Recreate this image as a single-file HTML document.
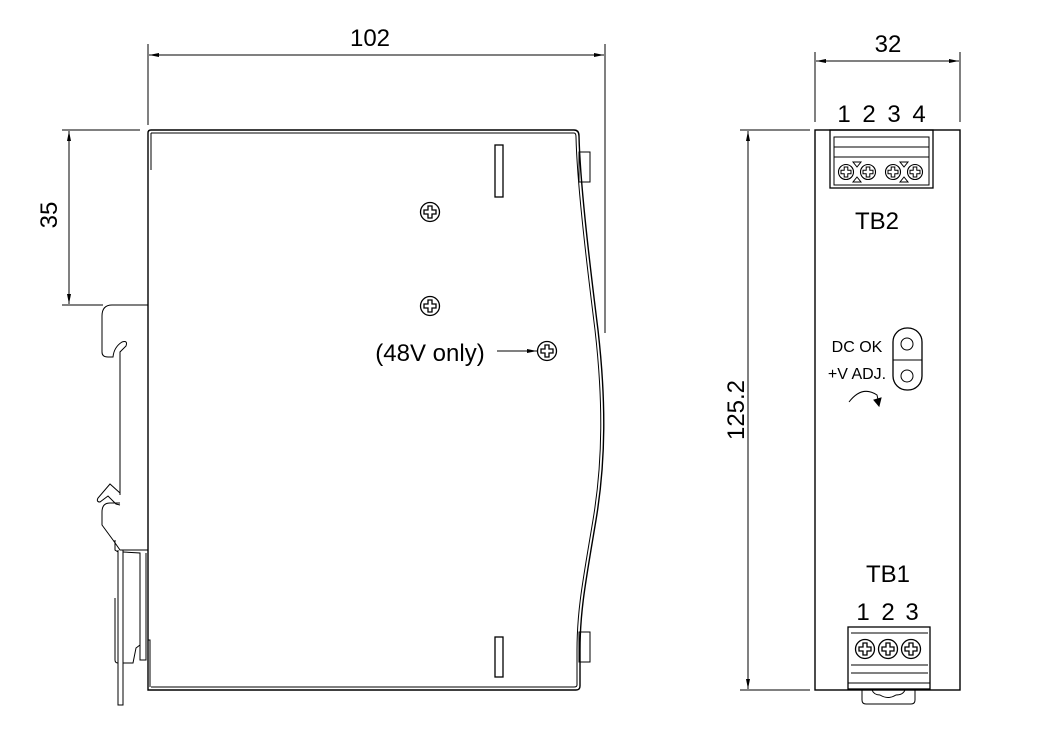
<!DOCTYPE html>
<html><head><meta charset="utf-8"><style>
html,body{margin:0;padding:0;background:#fff}
svg{display:block}
text{font-family:"Liberation Sans",sans-serif;fill:#000}
</style></head><body>
<svg width="1050" height="750" viewBox="0 0 1050 750" xmlns="http://www.w3.org/2000/svg">
<defs>
<marker id="a" viewBox="0 0 10 4" refX="10" refY="2" markerWidth="10" markerHeight="4" orient="auto-start-reverse" markerUnits="userSpaceOnUse"><path d="M0,0 L10,2 L0,4z" fill="#000"/></marker>
<g id="scr"><circle r="9.5" fill="#fff" stroke="#000" stroke-width="1.3"/><path d="M-2,-6 h4 v4 h4 v4 h-4 v4 h-4 v-4 h-4 v-4 h4z" fill="none" stroke="#000" stroke-width="1.3"/></g>
<g id="s2"><circle r="7.5" fill="#fff" stroke="#000" stroke-width="1.1"/><path d="M-1.8,-5 h3.6 v3.2 h3.2 v3.6 h-3.2 v3.2 h-3.6 v-3.2 h-3.2 v-3.6 h3.2z" fill="none" stroke="#000" stroke-width="1"/></g>
</defs>
<g stroke="#000" fill="none" stroke-width="1">
<line x1="148" y1="44" x2="148" y2="125"/>
<line x1="605" y1="44" x2="605" y2="333"/>
<line x1="149" y1="55" x2="604" y2="55" marker-start="url(#a)" marker-end="url(#a)"/>
<line x1="62" y1="130" x2="140" y2="130"/>
<line x1="62" y1="305" x2="103" y2="305"/>
<line x1="69" y1="131" x2="69" y2="304" marker-start="url(#a)" marker-end="url(#a)"/>
<path d="M148,690 L148,133 Q148,130 151,130 L574,130 Q579,130 579,136 C580,180 588,250 598,330 C606,400 606,460 596,520 C586,580 580,610 580,650 L580,686 Q580,690 576,690 Z" stroke-width="1.4"/>
<path d="M151,133 L574,133 Q576,133 576,137 C577,180 585,250 595,330 C603,400 603,460 593,520 C583,580 577,610 577,650 L577,685 Q577,687 574,687 L151,687" stroke-width="1"/>
<line x1="151" y1="133" x2="151" y2="170"/>
<rect x="579" y="152" width="11" height="30"/>
<rect x="579" y="632" width="11" height="30"/>
<rect x="495" y="145" width="8" height="52" stroke-width="1.3"/>
<rect x="495" y="637" width="8" height="40" stroke-width="1.3"/>
<path d="M148,305 L112,305 Q102,305 102,316 L102,352 Q102,357 108,357 L113,357 Q114,347 122,342 Q128,340 126,346 L120,352 L120,495"/>
<path d="M120,493 L110,484 L98,498 Q96,502 100,502 L108,496 L116,504 L120,505"/>
<path d="M120,503 L110,503 Q102,503 102,512 L102,525 L113,540 L120,550 L148,550"/>
<path d="M115,540 L115,550 L118,552 M118,550 L118,705 L123,705 L123,550"/>
<path d="M123,552 L140,553 L140,620"/>
<path d="M140,553 L140,660 L146,660 L146,553"/>
<path d="M115,598 L115,660 Q115,663 118,663"/>
<path d="M123,663 L133,663 L136,648 L140,645"/>
<path d="M148,690 L148,640 L150,640 L150,687"/>
<path d="M148,690 L160,690"/>
<line x1="497" y1="351" x2="537" y2="351" marker-end="url(#a)"/>
<line x1="815" y1="52" x2="815" y2="122"/>
<line x1="960" y1="52" x2="960" y2="122"/>
<line x1="816" y1="61" x2="959" y2="61" marker-start="url(#a)" marker-end="url(#a)"/>
<line x1="740" y1="130" x2="810" y2="130"/>
<line x1="740" y1="690" x2="810" y2="690"/>
<line x1="748" y1="131" x2="748" y2="689" marker-start="url(#a)" marker-end="url(#a)"/>
<rect x="815" y="130" width="145" height="560" stroke-width="1.4"/>
<rect x="830" y="130" width="103" height="58" stroke-width="1.3"/>
<rect x="834" y="137" width="95" height="48"/>
<line x1="834" y1="147" x2="929" y2="147"/>
<line x1="834" y1="157" x2="929" y2="157"/>
<path d="M853,162 L861,162 L857,167z M853,182 L861,182 L857,177z M900,162 L908,162 L904,167z M900,182 L908,182 L904,177z"/>
<rect x="893" y="328" width="29" height="62" rx="14" stroke-width="1.3"/>
<line x1="893" y1="360" x2="922" y2="360"/>
<circle cx="907" cy="344" r="6"/>
<circle cx="907" cy="376" r="6"/>
<path d="M849,402 Q862,385 877,395 L879,404"/>
<path d="M874,400 L879,406 L881,398z" fill="#000"/>
<rect x="848" y="627" width="82" height="62" stroke-width="1.3"/>
<line x1="851" y1="633" x2="928" y2="633"/>
<line x1="851" y1="665" x2="928" y2="665"/>
<line x1="851" y1="673" x2="928" y2="673"/>
<line x1="848" y1="683" x2="930" y2="683"/>
<path d="M862,690 L862,700 Q862,704 866,704 L911,704 Q915,704 915,700 L915,690"/>
<path d="M872,690 Q874,695 880,695 Q888,700 896,695 Q903,695 905,690"/>
</g>
<use href="#scr" x="430" y="212"/>
<use href="#scr" x="430" y="306"/>
<use href="#scr" x="547" y="351"/>
<use href="#s2" x="846" y="172"/><use href="#s2" x="868" y="172"/><use href="#s2" x="893" y="172"/><use href="#s2" x="915" y="172"/>
<use href="#scr" x="865" y="649"/><use href="#scr" x="888" y="649"/><use href="#scr" x="911" y="649"/>
<text x="370" y="46" font-size="24" text-anchor="middle">102</text>
<text transform="translate(57,215) rotate(-90)" font-size="24" text-anchor="middle">35</text>
<text x="430" y="361" font-size="24" text-anchor="middle">(48V only)</text>
<text x="888" y="52" font-size="24" text-anchor="middle">32</text>
<text transform="translate(744,410) rotate(-90)" font-size="24" text-anchor="middle">125.2</text>
<g font-size="24" text-anchor="middle">
<text x="844" y="122">1</text><text x="869" y="122">2</text><text x="894" y="122">3</text><text x="919" y="122">4</text>
<text x="863" y="620">1</text><text x="888" y="620">2</text><text x="912" y="620">3</text>
</g>
<text x="877" y="229" font-size="24" text-anchor="middle">TB2</text>
<text x="857" y="352" font-size="16" text-anchor="middle">DC OK</text>
<text x="857" y="379" font-size="16" text-anchor="middle">+V ADJ.</text>
<text x="888" y="582" font-size="24" text-anchor="middle">TB1</text>
</svg>
</body></html>
